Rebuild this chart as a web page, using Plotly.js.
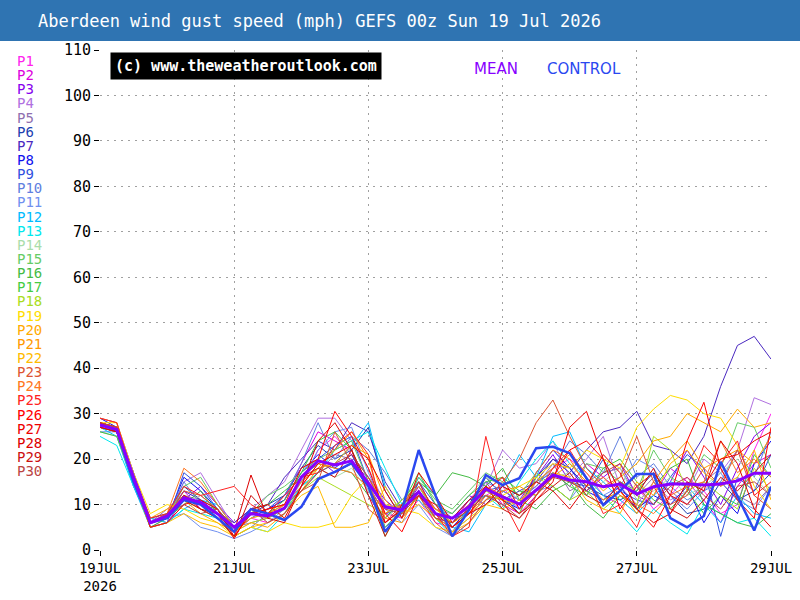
<!DOCTYPE html>
<html>
<head>
<meta charset="utf-8">
<script src="https://cdn.plot.ly/plotly-3.0.1.min.js"></script>
<style>
  html, body { margin: 0; padding: 0; background: #ffffff; }
  #chart { width: 800px; height: 600px; }
</style>
</head>
<body>
<div id="chart"></div>
<script>
// GEFS 00z wind gust ensemble for Aberdeen, 6-hourly steps, 19 Jul 00z -> 29 Jul 00z
const startTime = Date.UTC(2026, 6, 19, 0, 0, 0);
const stepCount = 41;

const tickDates = ['2026-07-19', '2026-07-21', '2026-07-23', '2026-07-25', '2026-07-27', '2026-07-29'];
const tickLabels = ['19JUL<br>2026', '21JUL', '23JUL', '25JUL', '27JUL', '29JUL'];
const yTicks = [0, 10, 20, 30, 40, 50, 60, 70, 80, 90, 100, 110];

const meanGust = [27.5, 26.5, 16, 6, 7.5, 11.5, 10.5, 8, 5, 8, 7.5, 9.2, 16, 19.6, 18.7, 19.6, 14.7, 9.5, 8.8, 12.8,
  8, 7, 9.5, 13.4, 11.7, 10.1, 13.2, 16.5, 15.4, 15, 13.9, 14.5, 12.3, 13.9, 14.5, 14.5, 14.3, 14.5, 15.2, 16.9, 16.9];
const controlGust = [27.5, 26.5, 15, 6, 7, 11, 10, 7, 4, 9, 8, 6.6, 9.5, 15.6, 17.2, 19.1, 14, 4, 8.8, 22,
  12, 3, 8.8, 16.5, 14.3, 15.8, 22.4, 22.7, 21.3, 15.8, 9.9, 13, 16.7, 16.7, 7, 5, 7.5, 19.4, 12, 4.3, 13.9];

const p1 = [28, 27, 15, 5, 6, 10, 12, 9, 4, 7, 6, 8, 14, 22, 25, 21, 16, 8, 7, 11, 6, 5, 8, 12, 14, 9, 15, 18, 20, 17, 12, 10, 14, 9, 12, 16, 13, 8, 10, 22, 30];
const p2 = [27, 26, 14, 6, 8, 13, 9, 7, 3, 8, 9, 11, 19, 26, 24, 22, 12, 6, 9, 13, 7, 6, 11, 15, 10, 8, 12, 17, 14, 19, 16, 13, 9, 12, 18, 15, 11, 6, 14, 19, 21];
const p3 = [29, 28, 17, 7, 6, 11, 14, 10, 6, 9, 8, 10, 15, 20, 17, 19, 16, 11, 8, 14, 9, 8, 12, 10, 13, 11, 16, 21, 15, 13, 16, 19, 12, 10, 15, 22, 16, 10, 18, 25, 28];
const p4 = [28, 27, 16, 5, 7, 15, 17, 11, 5, 9, 12, 15, 22, 29, 29, 24, 18, 10, 7, 12, 8, 6, 9, 14, 22, 18, 19, 24, 16, 20, 25, 14, 10, 15, 11, 13, 20, 17, 22, 33.5, 32];
const p5 = [27, 26, 15, 6, 9, 12, 11, 8, 5, 6, 7, 9, 13, 17, 21, 20, 13, 9, 10, 13, 7, 4, 7, 12, 10, 12, 14, 19, 13, 15, 17, 18, 12, 16, 13, 10, 15, 18, 12, 10, 14];
const p6 = [28, 27, 16, 7, 8, 14, 11, 9, 4, 8, 10, 12, 18, 23, 20, 22, 27, 13, 7, 15, 8, 6, 10, 16, 12, 8, 16, 20, 18, 14, 12, 11, 13, 17, 12, 8, 9, 15, 11, 13, 17];
const p7 = [28, 27, 17, 6, 7, 13, 11, 8, 6, 9, 10, 16, 20, 24, 22, 28, 26, 15, 9, 12, 9, 7, 11, 12, 11, 13, 15, 20, 17, 22, 26, 27, 30.5, 23, 22, 19, 25, 36, 45, 47, 42];
const p8 = [29, 27, 15, 6, 7, 16, 13, 9, 4, 8, 9, 11, 17, 21, 18, 21, 14, 8, 9, 13, 7, 5, 9, 14, 11, 9, 17, 22, 18, 13, 11, 14, 9, 12, 10, 14, 6, 12, 8, 19, 24];
const p9 = [27, 26, 16, 5, 6, 17, 14, 9, 4, 7, 9, 12, 18, 20, 23, 25, 15, 5, 8, 15, 10, 7, 8, 13, 14, 12, 15, 17, 15, 14, 20, 13, 11, 10, 16, 21, 18, 3, 16, 13, 21];
const p10 = [26, 26, 15, 6, 7, 15, 10, 7, 3, 5, 8, 12, 19, 28, 20, 25, 22, 17, 11, 14, 8, 4, 9, 15, 13, 11, 14, 18, 24, 21, 17, 25, 16, 19, 14, 11, 13, 15, 22, 16, 26];
const p11 = [28, 26, 14, 6, 7, 8, 5, 4, 2.5, 4, 6, 9, 15, 22, 26, 27, 17, 9, 6, 10, 5, 3, 6, 11, 12, 9, 13, 14, 11, 16, 12, 14, 20, 18, 12, 9, 13, 17, 11, 9, 14];
const p12 = [27, 25, 14, 5, 6, 9, 11, 10, 5, 8, 7, 9, 14, 17, 19, 23, 28, 14, 8, 16, 12, 5, 4, 10, 14, 21, 16, 25, 26, 18, 15, 11, 8, 12, 15, 14, 10, 6, 12, 8, 7];
const p13 = [25, 23, 14, 7, 6, 9, 8, 7, 3, 5, 4, 8, 14, 17, 22, 24, 26, 18, 10, 11, 7, 3, 10, 12, 9, 15, 20, 24, 19, 16, 12, 8, 4, 9, 6, 3.5, 10, 8, 6, 7, 3];
const p14 = [26, 25, 15, 6, 7, 10, 12, 9, 5, 7, 8, 10, 15, 18, 16, 18, 13, 7, 10, 12, 9, 8, 12, 16, 14, 11, 13, 16, 17, 12, 15, 18, 11, 13, 16, 12, 14, 17, 20, 16, 12];
const p15 = [27, 26, 16, 6, 7, 14, 16, 10, 5, 8, 12, 14, 17, 20, 22, 24, 15, 5, 9, 16, 11, 9, 13, 17, 15, 12, 17, 14, 11, 19, 18, 15, 13, 22, 16, 14, 21, 18, 28, 27, 18];
const p16 = [26, 25, 15, 5, 7, 10, 13, 8, 4, 9, 10, 13, 16, 19, 18, 17, 12, 7, 11, 15, 12, 17, 16, 14, 18, 11, 9, 13, 15, 10, 7, 12, 9, 14, 18, 20, 10, 8, 6, 5, 8];
const p17 = [28, 27, 16, 6, 8, 12, 10, 9, 4, 9, 8, 11, 17, 24, 26, 22, 14, 3, 10, 17, 10, 8, 12, 15, 16, 13, 12, 17, 14, 12, 18, 20, 15, 11, 9, 13, 8, 12, 10, 21, 16];
const p18 = [27, 26, 15, 6, 7, 11, 9, 7, 4, 6, 7, 9, 13, 16, 14, 12, 10, 8, 11, 14, 8, 6, 9, 13, 11, 8, 16, 14, 11, 13, 9, 12, 10, 25, 22, 13, 15, 12, 9, 18, 13];
const p19 = [28, 28, 17, 8, 10, 9, 7, 6, 3, 5, 4, 6, 5, 5, 6, 12, 16, 10, 9, 8, 5, 4, 7, 10, 12, 14, 16, 19, 18, 22, 20, 18, 27, 31, 34, 33, 30, 29, 23, 14, 9];
const p20 = [29, 28, 16, 7, 9, 11, 8, 6, 4, 6, 5, 8, 13, 18, 19, 23, 21, 11, 7, 12, 9, 6, 8, 12, 11, 10, 15, 18, 21, 17, 13, 16, 19, 24, 25, 30, 28, 26, 31, 27, 28];
const p21 = [28, 27, 16, 6, 8, 12, 10, 7, 4, 7, 8, 10, 15, 18, 22, 26, 20, 7, 6, 13, 7, 5, 8, 11, 13, 14, 12, 16, 19, 15, 11, 13, 8, 15, 20, 24, 18, 20, 22, 19, 25];
const p22 = [28, 27, 15, 5, 6, 8, 6, 5, 3, 5, 6, 8, 12, 14, 5, 5, 6, 14, 8, 10, 7, 4, 6, 10, 9, 11, 13, 17, 16, 11, 9, 8, 15, 12, 19, 22, 17, 14, 16, 22, 11];
const p23 = [27, 26, 15, 6, 7, 13, 12, 9, 5, 8, 9, 10, 13, 15, 26, 19, 9, 6, 9, 12, 6, 3, 6, 11, 15, 20, 28, 33, 25, 18, 14, 16, 25, 15, 10, 12, 18, 14, 22, 12, 9];
const p24 = [28, 27, 16, 6, 8, 18, 15, 10, 5, 8, 7, 10, 14, 19, 18, 17, 14, 8, 10, 14, 9, 7, 10, 14, 12, 10, 17, 22, 20, 14, 16, 12, 10, 8, 12, 14, 15, 24, 17, 20, 16];
const p25 = [29, 28, 16, 7, 8, 14, 12, 13, 14, 10, 8, 12, 16, 17, 23, 26, 21, 6, 10, 15, 8, 3, 5, 25, 11, 4, 12, 18, 22, 16, 8, 10, 5, 14, 8, 13, 23, 19, 24, 12, 15];
const p26 = [27, 26, 16, 5, 6, 10, 11, 9, 3, 8, 9, 10, 18, 20, 30.5, 25, 18, 8, 4, 12, 10, 5, 8, 13, 16, 9, 13, 16, 22, 24, 20, 13, 9, 5, 12, 24, 32.5, 18, 11, 7, 27];
const p27 = [28, 27, 15, 6, 7, 12, 10, 8, 2.5, 9, 10, 7, 14, 19, 21, 23, 20, 13, 7, 17, 12, 6, 9, 14, 11, 8, 11, 15, 27, 30.5, 20, 9, 14, 17, 12, 10, 14, 20, 21, 24, 26];
const p28 = [28, 26, 15, 6, 7, 11, 9, 8, 4, 16.5, 7, 6, 14, 24, 28, 22, 14, 6, 9, 12, 8, 5, 8, 10, 14, 12, 15, 13, 9, 14, 21, 17, 9, 6, 8, 15, 13, 24, 19, 9, 5];
const p29 = [27, 26, 16, 6, 7, 12, 9, 7, 3, 12, 8, 9, 16, 18, 16, 22, 12, 3, 10, 13, 8, 7, 11, 14, 9, 7, 11, 14, 17, 12, 10, 15, 12, 18, 9, 7, 11, 16, 13, 17, 21];
const p30 = [28, 27, 16, 6, 8, 10, 8, 9, 5, 9, 6, 8, 13, 17, 19, 21, 16, 9, 8, 12, 7, 6, 9, 12, 10, 7, 12, 16, 15, 13, 17, 19, 14, 10, 14, 16, 12, 9, 14, 15, 12];

const memberNames = ['P1', 'P2', 'P3', 'P4', 'P5', 'P6', 'P7', 'P8', 'P9', 'P10',
  'P11', 'P12', 'P13', 'P14', 'P15', 'P16', 'P17', 'P18', 'P19', 'P20',
  'P21', 'P22', 'P23', 'P24', 'P25', 'P26', 'P27', 'P28', 'P29', 'P30'];
const memberValues = [p1, p2, p3, p4, p5, p6, p7, p8, p9, p10,
  p11, p12, p13, p14, p15, p16, p17, p18, p19, p20,
  p21, p22, p23, p24, p25, p26, p27, p28, p29, p30];
const memberColors = ['#ff22ee', '#dd00dd', '#8800ee', '#b070e0', '#9070b0', '#2040b0', '#4a28c0', '#1010ee', '#3050e0', '#6080e0',
  '#7090f0', '#00bbff', '#00e8ee', '#aaddaa', '#66cc66', '#44bb44', '#44cc44', '#aadd22', '#ffdd00', '#ffaa00',
  '#ff9900', '#ffbb00', '#dd5533', '#ff7722', '#ff2222', '#ff0000', '#ee0000', '#dd0000', '#cc1111', '#bb4444'];

// 6-hourly valid times
const times = [];
for (let i = 0; i < stepCount; i++) {
  const d = new Date(startTime + i * 6 * 3600 * 1000);
  times.push(d.toISOString().slice(0, 16).replace('T', ' '));
}

const traces = memberValues.map((vals, k) => ({
  type: 'scatter', mode: 'lines', x: times, y: vals, name: memberNames[k],
  line: { color: memberColors[k], width: 1 }, hoverinfo: 'skip'
}));
traces.push({
  type: 'scatter', mode: 'lines', x: times, y: controlGust, name: 'CONTROL',
  line: { color: '#2a48f0', width: 2.5 }, hoverinfo: 'skip'
});
traces.push({
  type: 'scatter', mode: 'lines', x: times, y: meanGust, name: 'MEAN',
  line: { color: '#8800ff', width: 3 }, hoverinfo: 'skip'
});

// plot-area geometry in pixels, for placing the side labels
const W = 800, H = 600, L = 100, R = 29, T = 50, B = 50;
const pw = W - L - R, ph = H - T - B;
const px = (x) => (x - L) / pw;
const py = (y) => (H - B - y) / ph;

const mono = 'DejaVu Sans Mono, monospace';
const annotations = [
  {
    text: 'Aberdeen wind gust speed (mph) GEFS 00z Sun 19 Jul 2026',
    xref: 'paper', yref: 'paper', x: px(36), y: py(21), xanchor: 'left', yanchor: 'middle',
    showarrow: false, font: { family: mono, size: 17, color: '#ffffff' }
  },
  {
    text: '<b>(c) www.theweatheroutlook.com</b>',
    xref: 'paper', yref: 'paper', x: px(246), y: py(66), xanchor: 'center', yanchor: 'middle',
    showarrow: false, bgcolor: '#000000', borderpad: 4,
    font: { family: mono, size: 15, color: '#ffffff' }
  },
  {
    text: 'MEAN', xref: 'paper', yref: 'paper', x: px(496), y: py(69), xanchor: 'center', yanchor: 'middle',
    showarrow: false, font: { family: 'DejaVu Sans, sans-serif', size: 15, color: '#8800ff' }
  },
  {
    text: 'CONTROL', xref: 'paper', yref: 'paper', x: px(584), y: py(69), xanchor: 'center', yanchor: 'middle',
    showarrow: false, font: { family: 'DejaVu Sans, sans-serif', size: 15, color: '#2a48f0' }
  }
];
memberNames.forEach((nm, k) => {
  annotations.push({
    text: nm, xref: 'paper', yref: 'paper', x: px(15), y: py(61 + k * 14.14),
    xanchor: 'left', yanchor: 'middle', showarrow: false,
    font: { family: mono, size: 14, color: memberColors[k] }
  });
});

const layout = {
  width: W, height: H,
  margin: { l: L, r: R, t: T, b: B, pad: 0 },
  paper_bgcolor: '#ffffff', plot_bgcolor: '#ffffff',
  showlegend: false, hovermode: false,
  xaxis: {
    type: 'date', range: ['2026-07-19 00:00', '2026-07-29 00:00'],
    tickmode: 'array', tickvals: tickDates, ticktext: tickLabels,
    ticks: 'outside', ticklen: 5, tickcolor: '#000000',
    showgrid: true, gridcolor: '#a0a0a0', griddash: '2px,5px', gridwidth: 1,
    showline: false, zeroline: false,
    tickfont: { family: mono, size: 14, color: '#000000' }
  },
  yaxis: {
    range: [0, 110], tickmode: 'array', tickvals: yTicks,
    ticks: 'outside', ticklen: 5, tickcolor: '#000000',
    showgrid: true, gridcolor: '#a0a0a0', griddash: '2px,5px', gridwidth: 1,
    showline: false, zeroline: false,
    tickfont: { family: mono, size: 15, color: '#000000' }
  },
  shapes: [
    {
      type: 'rect', xref: 'paper', yref: 'paper',
      x0: px(0), x1: px(W), y0: py(41), y1: py(0),
      fillcolor: '#2f74b2', line: { width: 0 }, layer: 'below'
    }
  ],
  annotations: annotations
};

Plotly.newPlot('chart', traces, layout, { staticPlot: true, displayModeBar: false });
</script>
</body>
</html>
